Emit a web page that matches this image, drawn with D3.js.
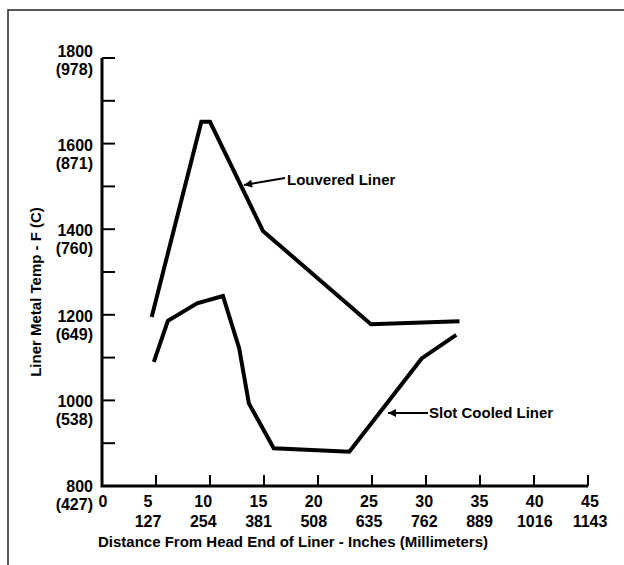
<!DOCTYPE html>
<html>
<head>
<meta charset="utf-8">
<script src="https://cdn.jsdelivr.net/npm/d3@7"></script>
<style>
  body { margin: 0; background: #fff; }
  text { font-family: "Liberation Sans", Arial, sans-serif; font-weight: bold; fill: #000; }
</style>
</head>
<body>
<svg id="chart" width="624" height="565"></svg>
<script>
// values (inches, deg F)
var louveredX = [4.6, 9.2, 10.0, 14.9, 24.9, 33.1];
var louveredY = [1195, 1651, 1651, 1396, 1178, 1185];
var slotX = [4.8, 6.1, 8.8, 11.2, 12.7, 13.6, 15.9, 22.9, 29.6, 32.8];
var slotY = [1090, 1186, 1227, 1244, 1122, 993, 888, 880, 1098, 1153];

var xTicks = [0, 5, 10, 15, 20, 25, 30, 35, 40, 45];
var mmLabels = ["", "127", "254", "381", "508", "635", "762", "889", "1016", "1143"];
var yMajor = [800, 1000, 1200, 1400, 1600, 1800];
var cLabels = ["(427)", "(538)", "(649)", "(760)", "(871)", "(978)"];
var yMinor = [900, 1100, 1300, 1500, 1700];

var svg = d3.select("#chart");

var x = d3.scaleLinear().domain([0, 45]).range([102, 588]);
var y = d3.scaleLinear().domain([800, 1800]).range([486, 58]);
// tick labels drift a little left of their ticks in the original
var xl = d3.scaleLinear().domain([5, 45]).range([148, 590]);

// frame (cropped scan: only top and left edges)
svg.append("path")
    .attr("d", "M8,565V10H624")
    .attr("fill", "none")
    .attr("stroke", "#222")
    .attr("stroke-width", 1.5);

// axes
svg.append("path")
    .attr("d", "M" + x(0) + "," + y(1800) + "V" + y(800) + "H" + x(45))
    .attr("fill", "none")
    .attr("stroke", "#000")
    .attr("stroke-width", 3);

// y ticks point inward
svg.selectAll(".ytick")
    .data(yMajor.concat(yMinor))
    .enter().append("line")
    .attr("x1", x(0)).attr("x2", x(0) + 13)
    .attr("y1", function(d) { return y(d); })
    .attr("y2", function(d) { return y(d); })
    .attr("stroke", "#000")
    .attr("stroke-width", 2);

svg.selectAll(".xtick")
    .data(xTicks.slice(1))
    .enter().append("line")
    .attr("x1", function(d) { return x(d); })
    .attr("x2", function(d) { return x(d); })
    .attr("y1", y(800)).attr("y2", y(800) - 11)
    .attr("stroke", "#000")
    .attr("stroke-width", 2);

// y labels, F over (C)
yMajor.forEach(function(v, i) {
    var yy = y(v) + 1;
    if (v == 1800) yy -= 8;
    if (v == 800) yy -= 1;
    svg.append("text")
        .attr("x", 93).attr("y", yy + 6)
        .attr("text-anchor", "end")
        .style("font-size", "16px")
        .text(v);
    svg.append("text")
        .attr("x", 93).attr("y", yy + 24)
        .attr("text-anchor", "end")
        .style("font-size", "16px")
        .text(cLabels[i]);
});

// x labels, inches over mm
xTicks.forEach(function(v, i) {
    var xx = v == 0 ? x(0) + 1 : xl(v);
    svg.append("text")
        .attr("x", xx).attr("y", 507)
        .attr("text-anchor", "middle")
        .style("font-size", "16px")
        .text(v);
    svg.append("text")
        .attr("x", xx).attr("y", 527)
        .attr("text-anchor", "middle")
        .style("font-size", "16px")
        .text(mmLabels[i]);
});

svg.append("text")
    .attr("x", 293).attr("y", 547)
    .attr("text-anchor", "middle")
    .style("font-size", "15px")
    .text("Distance From Head End of Liner - Inches (Millimeters)");

svg.append("text")
    .attr("transform", "translate(41,292) rotate(-90)")
    .attr("text-anchor", "middle")
    .style("font-size", "15px")
    .text("Liner Metal Temp - F (C)");

// curves
var line = d3.line()
    .x(function(d) { return x(d[0]); })
    .y(function(d) { return y(d[1]); });

svg.append("path")
    .datum(d3.zip(louveredX, louveredY))
    .attr("d", line)
    .attr("fill", "none")
    .attr("stroke", "#000")
    .attr("stroke-width", 4);

svg.append("path")
    .datum(d3.zip(slotX, slotY))
    .attr("d", line)
    .attr("fill", "none")
    .attr("stroke", "#000")
    .attr("stroke-width", 4);

// labels with pointer arrows
svg.append("defs").append("marker")
    .attr("id", "ah")
    .attr("viewBox", "0 0 10 10")
    .attr("refX", 10).attr("refY", 5)
    .attr("markerWidth", 5).attr("markerHeight", 4)
    .attr("orient", "auto")
    .append("path")
    .attr("d", "M0,0L10,5L0,10Z")
    .attr("fill", "#000");

svg.append("line")
    .attr("x1", 285).attr("y1", 178)
    .attr("x2", 244).attr("y2", 185)
    .attr("stroke", "#000").attr("stroke-width", 2)
    .attr("marker-end", "url(#ah)");
svg.append("text")
    .attr("x", 287).attr("y", 185)
    .style("font-size", "15px")
    .text("Louvered Liner");

svg.append("line")
    .attr("x1", 428).attr("y1", 413)
    .attr("x2", 388).attr("y2", 413)
    .attr("stroke", "#000").attr("stroke-width", 2)
    .attr("marker-end", "url(#ah)");
svg.append("text")
    .attr("x", 429).attr("y", 418)
    .style("font-size", "15px")
    .text("Slot Cooled Liner");
</script>
</body>
</html>
